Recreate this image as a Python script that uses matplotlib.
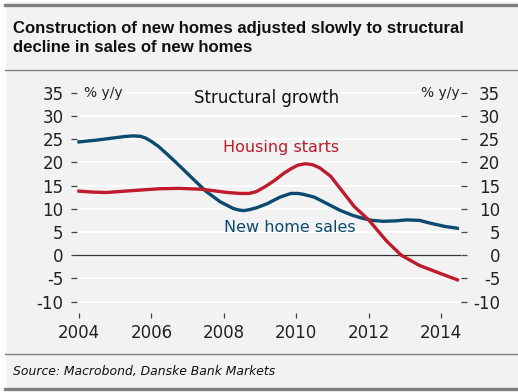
import matplotlib
matplotlib.use('Agg')
import matplotlib.pyplot as plt
from matplotlib.patches import Rectangle
from matplotlib.lines import Line2D

plt.rcParams['axes.unicode_minus'] = False

# New home sales, % y/y
sales_years = [2004.0, 2004.5, 2005.0, 2005.25, 2005.5, 2005.7, 2005.85, 2006.0,
               2006.2, 2006.4, 2006.65, 2007.1, 2007.5, 2007.9, 2008.1, 2008.25,
               2008.4, 2008.55, 2008.7, 2008.9, 2009.2, 2009.55, 2009.85, 2010.05,
               2010.2, 2010.5, 2010.85, 2011.2, 2011.55, 2011.85, 2012.1, 2012.4,
               2012.75, 2013.05, 2013.4, 2013.7, 2014.1, 2014.45]
sales_values = [24.4, 24.8, 25.3, 25.55, 25.7, 25.6, 25.2, 24.5,
                23.4, 22.0, 20.2, 16.8, 13.8, 11.5, 10.7, 10.1,
                9.75, 9.6, 9.8, 10.2, 11.1, 12.5, 13.3, 13.3,
                13.1, 12.5, 11.1, 9.7, 8.6, 7.9, 7.5, 7.3,
                7.4, 7.6, 7.5, 6.9, 6.2, 5.8]

# Housing starts, % y/y
starts_years = [2004.0, 2004.35, 2004.75, 2005.45, 2006.2, 2006.75, 2007.4, 2008.1,
                2008.45, 2008.7, 2008.9, 2009.15, 2009.4, 2009.65, 2009.85, 2010.05,
                2010.25, 2010.45, 2010.65, 2010.95, 2011.3, 2011.6, 2012.0, 2012.5,
                2012.9, 2013.4, 2014.0, 2014.45]
starts_values = [13.8, 13.6, 13.5, 13.9, 14.3, 14.4, 14.2, 13.5,
                 13.3, 13.3, 13.7, 14.8, 16.1, 17.6, 18.6, 19.4,
                 19.7, 19.5, 18.8, 17.0, 13.5, 10.5, 7.6, 3.0,
                 0.0, -2.2, -4.0, -5.3]

x_ticks = [2004, 2006, 2008, 2010, 2012, 2014]
y_ticks = [-10, -5, 0, 5, 10, 15, 20, 25, 30, 35]

title = "Construction of new homes adjusted slowly to structural\ndecline in sales of new homes"
source = "Source: Macrobond, Danske Bank Markets"

BLUE = '#0c4a70'
RED = '#bf1b2c'
BG = '#f2f2f2'
W, H = 518, 392

fig = plt.figure(figsize=(W / 100, H / 100), dpi=100)
fig.patch.set_facecolor('white')

# grey panel and the rules around title and source
fig.patches.append(Rectangle((6 / W, 2 / H), 1 - 6 / W, 388 / H, transform=fig.transFigure,
                             facecolor=BG, edgecolor='none', zorder=-10))
for y, lw in [(4.5, 2.4), (70, 1.0), (353.5, 1.0), (389, 2.4)]:
    fig.add_artist(Line2D([5 / W, 1], [1 - y / H] * 2, color='#808080', lw=lw))

fig.text(13 / W, 1 - 38 / H, title, fontsize=12.1, fontweight='bold', family='Liberation Sans',
         ha='left', va='center', linespacing=1.25, color='#111111')
fig.text(13 / W, 1 - 371 / H, source, fontsize=8.9, style='italic', ha='left', va='center',
         color='#111111')

ax = fig.add_axes([77 / W, 1 - 313 / H, (461 - 77) / W, (313 - 91.3) / H])
ax.set_facecolor('none')
for s in ax.spines.values():
    s.set_visible(False)

ax.set_xlim(2003.945, 2014.55)
ax.set_ylim(-12.45, 35.3)
ax.set_xticks(x_ticks)
ax.set_yticks(y_ticks)
ax.grid(axis='y', color='white', lw=1.3)
ax.set_axisbelow(True)

ax.tick_params(axis='y', length=4.3, width=0.9, color='#444444', pad=5.5,
               labelsize=12, labelcolor='#222222')
ax.tick_params(axis='x', length=3.6, width=0.9, color='#444444', pad=4,
               labelsize=12, labelcolor='#222222')

ax2 = ax.twinx()
ax2.set_ylim(ax.get_ylim())
ax2.set_yticks(y_ticks)
for s in ax2.spines.values():
    s.set_visible(False)
ax2.tick_params(axis='y', length=4.3, width=0.9, color='#444444', pad=24,
                labelsize=12, labelcolor='#222222')
for lab in ax2.get_yticklabels():
    lab.set_horizontalalignment('right')

ax.axhline(0, color='#333333', lw=0.9, zorder=2)
ax.plot(sales_years, sales_values, color=BLUE, lw=2.4, zorder=3, solid_joinstyle='round')
ax.plot(starts_years, starts_values, color=RED, lw=2.4, zorder=3, solid_joinstyle='round')

box = dict(facecolor=BG, edgecolor='none', pad=1)
ax.text(2004.15, 35, '% y/y', fontsize=10, ha='left', va='center', color='#222222', bbox=box)
ax.text(2014.5, 35, '% y/y', fontsize=10, ha='right', va='center', color='#222222', bbox=box)
ax.text(2009.19, 33.8, 'Structural growth', fontsize=12, ha='center', va='center',
        color='#111111', bbox=box)
ax.text(2009.58, 23.1, 'Housing starts', fontsize=11.5, ha='center', va='center', color=RED)
ax.text(2009.82, 6.0, 'New home sales', fontsize=11.5, ha='center', va='center', color=BLUE)

fig.savefig('out.png', dpi=100, facecolor=fig.get_facecolor())
